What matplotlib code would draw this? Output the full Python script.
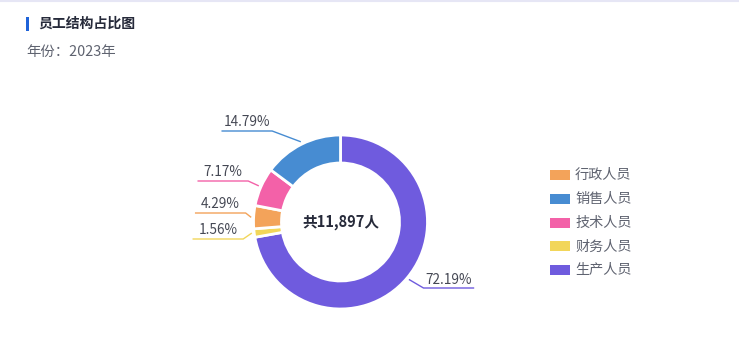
import numpy as np
import matplotlib.pyplot as plt

plt.rcParams['font.family'] = ['Noto Sans CJK SC', 'DejaVu Sans']

# data (clockwise from 12 o'clock)
names = ['生产人员', '财务人员', '行政人员', '技术人员', '销售人员']
shares = [72.19, 1.56, 4.29, 7.17, 14.79]
colors = ['#6F5BDE', '#F2D65A', '#F3A35A', '#F361A8', '#478CD2']
legend_order = ['行政人员', '销售人员', '技术人员', '财务人员', '生产人员']
total = 11897
year = 2023

W, H = 739, 361
fig = plt.figure(figsize=(W / 100, H / 100), dpi=100)
ax = fig.add_axes([0, 0, 1, 1])


def Y(y):
    return H - y


# top border + title
ax.plot([0, W], [Y(0.5), Y(0.5)], color='#E6E6F5', lw=1.5)
ax.add_patch(plt.Rectangle((26, Y(31)), 3, 14, color='#1F63D9', lw=0))
ax.text(38, Y(24), '员工结构占比图', fontsize=10, fontweight='bold',
        color='#262A3A', va='center')
ax.text(26, Y(52), f'年份：{year}年', fontsize=10.4, color='#5F6370', va='center')

# donut
cx, cy, R = 340.5, 222, 87
wedges, _ = ax.pie(shares, colors=colors, startangle=90, counterclock=False,
                   center=(cx, Y(cy)), radius=R,
                   wedgeprops=dict(width=28, edgecolor='white', linewidth=2))
ax.set_xlim(0, W)
ax.set_ylim(0, H)
ax.set_aspect('equal')
ax.axis('off')

ax.text(cx, Y(cy), f'共{total:,}人', fontsize=10.5, fontweight='bold',
        color='#262A3A', ha='center', va='center')

# leader lines: elbow offsets (dx, y) per slice, tuned to the layout
elbow = {'生产人员': (14, 288), '财务人员': (-8, 239), '行政人员': (-5, 213),
         '技术人员': (-10, 181), '销售人员': (-28, 131)}
seg = 50
for w, n, s, c in zip(wedges, names, shares, colors):
    mid = np.deg2rad((w.theta1 + w.theta2) / 2)
    x0 = cx + (R + 3) * np.cos(mid)
    y0 = Y(cy) + (R + 3) * np.sin(mid)
    dx, ey = elbow[n]
    x1, y1 = x0 + dx, Y(ey)
    side = 1 if np.cos(mid) > 0 else -1
    x2 = x1 + side * seg
    ax.plot([x0, x1, x2], [y0, y1, y1], color=c, lw=1)
    ax.text((x1 + x2) / 2, y1 + 1.5, f'{s:.2f}%', fontsize=9.8, color='#454854',
            ha='center', va='bottom')

# legend
for i, n in enumerate(legend_order):
    c = colors[names.index(n)]
    yy = 175 + i * 23.8
    ax.add_patch(plt.Rectangle((550, Y(yy + 5)), 20, 10, color=c, lw=0))
    ax.text(575, Y(yy), n, fontsize=10.2, color='#5F6370', va='center')

fig.savefig('out.png', dpi=100)
